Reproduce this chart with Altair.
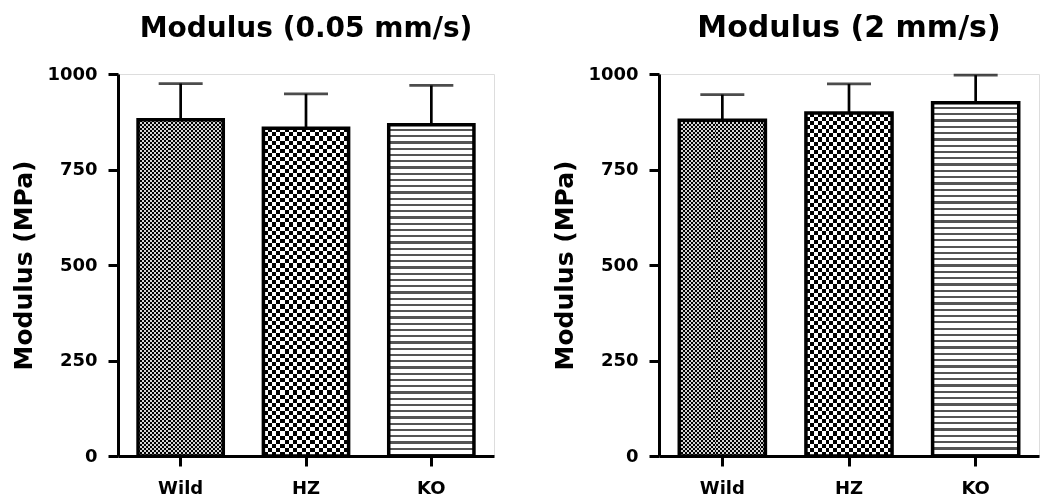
import altair as alt
import pandas as pd

# ---------------- data ----------------
groups = ["Wild", "HZ", "KO"]
slow_mean = [880, 858, 867]
slow_err = [95, 90, 103]
fast_mean = [879, 898, 925]
fast_err = [67, 76, 72]
y_ticks = [0, 250, 500, 750, 1000]

FONT = "DejaVu Sans"


def grad(n, c1, c2, frac, horizontal):
    """Hard-stop stripe gradient (style only)."""
    stops = []
    for k in range(n):
        a, b, c = k / n, (k + frac) / n, (k + 1) / n
        stops += [
            alt.GradientStop(offset=a, color=c1),
            alt.GradientStop(offset=b, color=c1),
            alt.GradientStop(offset=b, color=c2),
            alt.GradientStop(offset=c, color=c2),
        ]
    if horizontal:  # variation along x -> vertical stripes
        return alt.LinearGradient(gradient="linear", stops=stops, x1=0, y1=0, x2=1, y2=0)
    return alt.LinearGradient(gradient="linear", stops=stops, x1=0, y1=0, x2=0, y2=1)


def panel(title, means, errs, w, h, title_size, title_offset):
    df = pd.DataFrame({"group": groups, "mean": means, "err": errs})
    df["top"] = df["mean"] + df["err"]
    px_per_unit = h / 1000.0
    bw = w / 3 * 0.68

    xenc = alt.X(
        "group:N",
        sort=groups,
        scale=alt.Scale(paddingInner=0.32, paddingOuter=0.16),
        axis=alt.Axis(
            title=None, labelAngle=0, labelFont=FONT, labelFontSize=18,
            labelFontWeight="bold", labelColor="black", labelPadding=13,
            domainColor="black", domainWidth=3, tickColor="black",
            tickWidth=3, tickSize=10,
        ),
    )
    yenc = alt.Y(
        "mean:Q",
        scale=alt.Scale(domain=[0, 1000], nice=False),
        axis=alt.Axis(
            title="Modulus (MPa)", values=y_ticks, format="d", grid=False,
            titleFont=FONT, titleFontSize=25, titleFontWeight="bold",
            titleColor="black", titlePadding=10,
            labelFont=FONT, labelFontSize=18, labelFontWeight="bold",
            labelColor="black", labelPadding=11,
            domainColor="black", domainWidth=3, tickColor="black",
            tickWidth=3, tickSize=10,
        ),
    )
    base = alt.Chart(df)
    layers = []
    for i, g in enumerate(groups):
        hpx = means[i] * px_per_unit
        sub = base.transform_filter(alt.datum.group == g)
        if g == "KO":
            n = max(1, round(hpx / 6.3))
            layers.append(sub.mark_bar(fill=grad(n, "#ffffff", "#555555", 0.64, False),
                                       strokeWidth=0).encode(x=xenc, y=yenc))
        else:
            if g == "Wild":
                per, light = 4.0, "#d4d4d4"
            else:
                per, light = 8.2, "#ffffff"
            nx = max(1, round(bw / per))
            ny = max(1, round(hpx / per))
            layers.append(sub.mark_bar(fill=grad(nx, "#000000", light, 0.5, True),
                                       strokeWidth=0).encode(x=xenc, y=yenc))
            layers.append(sub.mark_bar(fill=grad(ny, light, "rgba(255,255,255,0)", 0.5, False),
                                       strokeWidth=0, blend="difference").encode(x=xenc, y=yenc))
    rule = base.mark_rule(color="black", strokeWidth=2.7).encode(
        x=xenc, y="mean:Q", y2="top:Q")
    cap = base.mark_tick(color="black", thickness=2.7, size=44, orient="horizontal").encode(
        x=xenc, y="top:Q")
    outline = base.mark_bar(fill="transparent", stroke="black", strokeWidth=3.5).encode(
        x=xenc, y=yenc)
    layers += [rule, cap, outline]
    return alt.layer(*layers).properties(
        width=w, height=h,
        title=alt.TitleParams(title, font=FONT, fontSize=title_size, fontWeight="bold",
                              color="black", anchor="middle", frame="group",
                              offset=title_offset),
    )


left = panel("Modulus (0.05 mm/s)", slow_mean, slow_err, 376, 382, 28, 22)
right = panel("Modulus (2 mm/s)", fast_mean, fast_err, 380, 382, 30, 22)

chart = alt.hconcat(left, right, spacing=57).properties(
    padding={"top": 4, "left": 3, "right": 0, "bottom": 0}
).configure_view(stroke="transparent", strokeWidth=0).configure(background="white")

chart.save("out.html", embed_options={"renderer": "svg", "actions": False})
